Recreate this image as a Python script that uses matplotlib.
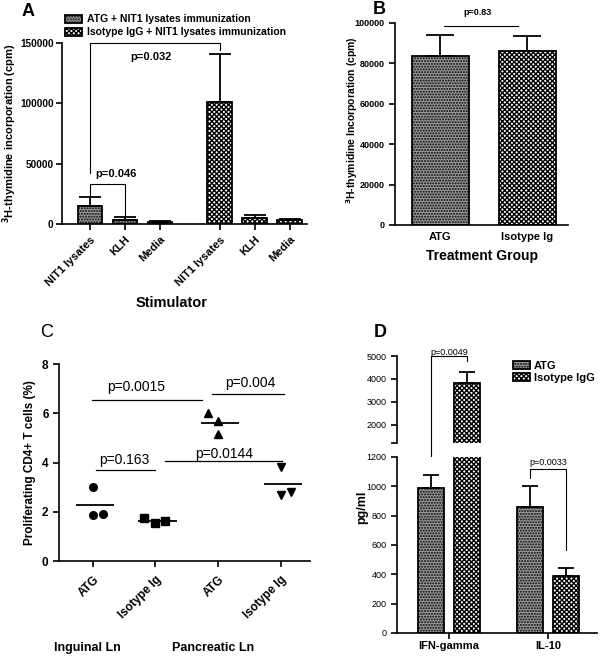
import numpy as np
import matplotlib
matplotlib.use("Agg")
import matplotlib.pyplot as plt
from matplotlib.patches import Patch

plt.rcParams["font.family"] = ["Liberation Sans", "DejaVu Sans"]
plt.rcParams["font.weight"] = "bold"
plt.rcParams["axes.labelweight"] = "bold"
plt.rcParams["hatch.linewidth"] = 1.0
plt.rcParams["axes.linewidth"] = 1.2
plt.rcParams["xtick.major.width"] = 1.2
plt.rcParams["ytick.major.width"] = 1.2
plt.rcParams["mathtext.default"] = "bf"

# ---- data ----
# A
stimuli = ["NIT1 lysates", "KLH", "Media"]
a_atg = [15000, 3000, 1500]
a_atg_err = [7000, 3000, 700]
a_iso = [101000, 5000, 3500]
a_iso_err = [39500, 2700, 700]
# B
b_groups = ["ATG", "Isotype Ig"]
b_vals = [83700, 86100]
b_err = [10300, 7400]
# C
c_groups = ["ATG", "Isotype Ig", "ATG", "Isotype Ig"]
c_points = [[3.0, 1.88, 1.9], [1.73, 1.53, 1.63], [6.0, 5.7, 5.15], [3.83, 2.68, 2.82]]
c_jitter = [[0.0, 0.0, 0.16], [-0.18, 0.0, 0.16], [-0.16, 0.0, 0.0], [0.0, 0.0, 0.17]]
c_markers = ["o", "s", "^", "v"]
# D
cytokines = ["IFN-gamma", "IL-10"]
d_atg = [988, 860]
d_atg_err = [87, 145]
d_iso = [3800, 388]
d_iso_err = [500, 52]

GREY = "#9c9c9c"
ATG_STYLE = dict(facecolor=GREY, hatch="......", edgecolor="black", linewidth=1.3)
ISO_STYLE = dict(facecolor="white", hatch="xxxxxxx", edgecolor="black", linewidth=1.3)

fig = plt.figure(figsize=(6, 6.56), dpi=100)


def px_axes(l, t, r, b):
    return fig.add_axes([l / 600, 1 - b / 656, (r - l) / 600, (b - t) / 656])


def clean(ax):
    ax.spines["top"].set_visible(False)
    ax.spines["right"].set_visible(False)


def bars(ax, x, h, err, style, width, cap):
    ax.bar(x, h, width, **style)
    ax.errorbar(x, h, yerr=[np.zeros(len(h)), err], fmt="none", ecolor="black",
                elinewidth=1.3, capsize=cap, capthick=1.3)


# ---------------- Panel A ----------------
axA = px_axes(62, 43, 307, 224)
clean(axA)
xa_atg = np.array([0, 1, 2])
xa_iso = xa_atg + 3.7
bars(axA, xa_atg, a_atg, a_atg_err, ATG_STYLE, 0.69, 8)
bars(axA, xa_iso, a_iso, a_iso_err, ISO_STYLE, 0.69, 8)
axA.set_xlim(-0.8, 6.2)
axA.set_ylim(0, 150000)
axA.set_yticks([0, 50000, 100000, 150000])
axA.set_xticks(list(xa_atg) + list(xa_iso))
axA.set_xticklabels(stimuli + stimuli, rotation=45, ha="right", rotation_mode="anchor", fontsize=8)
axA.tick_params(axis="y", labelsize=7.2, length=4, pad=2)
axA.tick_params(axis="x", length=4)
fig.text(10 / 600, 1 - 133 / 656, "$^{3}$H-thymidine incorporation (cpm)", rotation=90,
         ha="center", va="center", fontsize=8)
# significance brackets
axA.plot([0, 0, 3.7, 3.7], [42000, 150000, 150000, 144000], color="black", lw=0.8, clip_on=False)
axA.text(1.75, 138000, "p=0.032", ha="center", va="center", fontsize=8)
axA.plot([0, 0, 1, 1], [23000, 33000, 33000, 6000], color="black", lw=0.8)
axA.text(0.75, 41500, "p=0.046", ha="center", va="center", fontsize=8)
fig.text(172 / 600, 1 - 303 / 656, "Stimulator", ha="center", va="center", fontsize=10.5)
leg_handles = [Patch(label="ATG + NIT1 lysates immunization", **ATG_STYLE),
               Patch(label="Isotype IgG + NIT1 lysates immunization", **ISO_STYLE)]
fig.legend(handles=leg_handles, loc="upper left", bbox_to_anchor=(60 / 600, 1 - 9 / 656),
           frameon=False, fontsize=7.5, handlelength=1.6, handleheight=0.8,
           labelspacing=0.3, handletextpad=0.5, borderpad=0)
fig.text(28 / 600, 1 - 12 / 656, "A", ha="center", va="center", fontsize=13)

# ---------------- Panel B ----------------
axB = px_axes(395, 23, 568, 225)
clean(axB)
xb = np.arange(len(b_groups))
axB.bar(xb[0], b_vals[0], 0.655, **ATG_STYLE)
axB.bar(xb[1], b_vals[1], 0.655, **ISO_STYLE)
axB.errorbar(xb, b_vals, yerr=[np.zeros(2), b_err], fmt="none", ecolor="black",
             elinewidth=1.3, capsize=10, capthick=1.3)
axB.set_xlim(-0.52, 1.47)
axB.set_ylim(0, 100000)
axB.set_yticks(np.arange(0, 100001, 20000))
axB.set_xticks(xb)
axB.set_xticklabels(b_groups, fontsize=8)
axB.tick_params(axis="y", labelsize=6.5, length=4)
axB.tick_params(axis="x", length=0, pad=5)
axB.plot([0.04, 0.9], [98500, 98500], color="black", lw=0.8)
axB.text(0.43, 103000, "p=0.83", ha="center", va="bottom", fontsize=6.5, clip_on=False)
fig.text(352 / 600, 1 - 120 / 656, "$^{3}$H-thymidine Incorporation (cpm)", rotation=90,
         ha="center", va="center", fontsize=7.5)
fig.text(482 / 600, 1 - 256 / 656, "Treatment Group", ha="center", va="center", fontsize=10)
fig.text(379 / 600, 1 - 9 / 656, "B", ha="center", va="center", fontsize=13)

# ---------------- Panel C ----------------
axC = px_axes(59, 364, 310, 561)
clean(axC)
for i, pts in enumerate(c_points):
    axC.plot(i + np.array(c_jitter[i]), pts, linestyle="none", marker=c_markers[i],
             color="black", markersize=5.5)
    axC.hlines(np.mean(pts), i - 0.27, i + 0.34, color="black", lw=1.3)
axC.set_xlim(-0.54, 3.47)
axC.set_ylim(0, 8)
axC.set_yticks([0, 2, 4, 6, 8])
axC.set_xticks(range(4))
axC.set_xticklabels(c_groups, rotation=45, ha="right", rotation_mode="anchor", fontsize=8.5)
axC.tick_params(axis="y", labelsize=8.5, length=4)
axC.tick_params(axis="x", length=4, pad=5)
axC.set_ylabel("Proliferating CD4+ T cells (%)", fontsize=8.5, labelpad=4)
c_sig = [(-0.02, 1.74, 6.55, 0.70, 7.05, "p=0.0015"),
         (1.91, 3.06, 6.78, 2.52, 7.22, "p=0.004"),
         (0.05, 0.99, 3.70, 0.51, 4.12, "p=0.163"),
         (1.15, 3.03, 4.06, 2.10, 4.33, "p=0.0144")]
for x0, x1, y, tx, ty, lab in c_sig:
    axC.plot([x0, x1], [y, y], color="black", lw=0.9)
    axC.text(tx, ty, lab, ha="center", va="center", fontsize=10, fontweight="normal")
fig.text(87 / 600, 1 - 648 / 656, "Inguinal Ln", ha="center", va="center", fontsize=9)
fig.text(213 / 600, 1 - 648 / 656, "Pancreatic Ln", ha="center", va="center", fontsize=9)
fig.text(47 / 600, 1 - 333 / 656, "C", ha="center", va="center", fontsize=13, fontweight="normal")

# ---------------- Panel D ----------------
axDh = px_axes(397, 356, 597, 443)
axDl = px_axes(397, 457, 597, 633)
xd = np.arange(len(cytokines))
for ax in (axDh, axDl):
    clean(ax)
    bars(ax, xd - 0.18, d_atg, d_atg_err, ATG_STYLE, 0.26, 5.5)
    bars(ax, xd + 0.18, d_iso, d_iso_err, ISO_STYLE, 0.26, 5.5)
    ax.set_xlim(-0.525, 1.495)
axDh.set_ylim(1200, 5000)
axDl.set_ylim(0, 1200)
axDh.spines["bottom"].set_visible(False)
axDh.set_xticks([])
axDh.set_yticks([1200, 2000, 3000, 4000, 5000])
axDh.set_yticklabels(["", "2000", "3000", "4000", "5000"])
axDl.set_yticks(np.arange(0, 1201, 200))
for ax in (axDh, axDl):
    ax.tick_params(axis="y", labelsize=6.5, length=4)
    for t in ax.get_yticklabels():
        t.set_fontweight("normal")
axDl.set_xticks(xd)
axDl.set_xticklabels(cytokines, fontsize=8)
axDl.tick_params(axis="x", length=4, pad=2)


def low_to_high(y):
    disp = axDl.transData.transform((0, y))
    return axDh.transData.inverted().transform(disp)[1]


axDh.plot([-0.18, -0.18, 0.18, 0.18],
          [low_to_high(1140), 5000, 5000, 4800], color="black", lw=0.8, clip_on=False)
axDh.text(0.0, 4950, "p=0.0049", ha="center", va="bottom", fontsize=6.5, fontweight="normal")
axDl.plot([0.82, 0.82, 1.18, 1.18], [1060, 1115, 1115, 565], color="black", lw=0.8)
axDl.text(1.0, 1130, "p=0.0033", ha="center", va="bottom", fontsize=6.5, fontweight="normal")
d_handles = [Patch(label="ATG", **ATG_STYLE), Patch(label="Isotype IgG", **ISO_STYLE)]
fig.legend(handles=d_handles, loc="upper left", bbox_to_anchor=(507 / 600, 1 - 355 / 656),
           frameon=False, fontsize=8, handlelength=1.6, handleheight=0.7,
           labelspacing=0.2, handletextpad=0.3, borderpad=0)
fig.text(362 / 600, 1 - 507 / 656, "pg/ml", rotation=90, ha="center", va="center", fontsize=9)
fig.text(380 / 600, 1 - 333 / 656, "D", ha="center", va="center", fontsize=13)

fig.savefig("out.png", dpi=100)
